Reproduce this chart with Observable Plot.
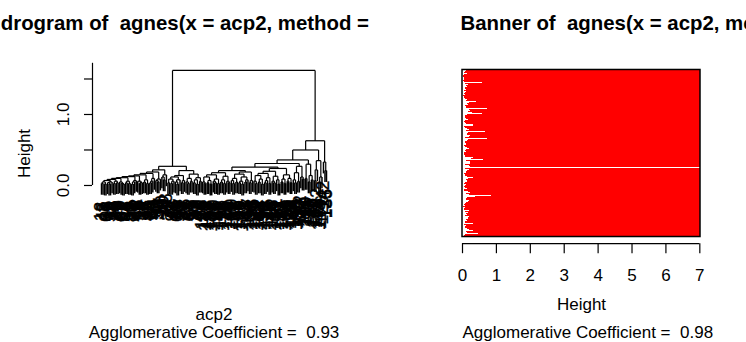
<!DOCTYPE html>
<html>
<head>
<meta charset="utf-8">
<script src="https://cdn.jsdelivr.net/npm/d3@7"></script>
<script src="https://cdn.jsdelivr.net/npm/@observablehq/plot@0.6"></script>
<style>
  html, body { margin: 0; padding: 0; background: #fff; }
  #page { display: flex; width: 746px; height: 342px; }
  .panel { width: 373px; height: 342px; overflow: hidden; position: relative; }
  .panel svg { display: block; overflow: hidden; }
  .panel text { white-space: pre; }
</style>
</head>
<body>
<div id="page">
  <div class="panel" id="dendro"></div>
  <div class="panel" id="banner"></div>
</div>
<script>
// ---- agnes(acp2, "single"): merge height between consecutive observations in dendrogram order
const mergeHeights = [
  0.03, 0.05, 0.02, 0.07, 0.04, 0.02, 0.05, 0.085, 0.03, 0.06,
  0.04, 0.10, 0.05, 0.03, 0.02, 0.11, 0.04, 0.06, 0.03, 0.125,
  0.02, 0.05, 0.07, 0.135, 0.06, 0.03, 0.04, 0.15, 0.05, 0.08,
  0.03, 0.17, 0.04, 0.06, 0.10, 0.19, 0.07, 0.05, 0.09, 0.22,
  0.12, 0.08, 0.15, 0.27, 0.04, 0.09, 0.03, 0.06, 0.12, 0.05,
  0.02, 0.08, 0.14, 0.04, 0.07, 0.21, 0.05, 0.03, 0.10, 0.06,
  0.16, 0.04, 0.08, 0.02, 0.11, 0.06, 1.62, 0.05, 0.03, 0.12,
  0.04, 0.07, 0.02, 0.15, 0.06, 0.04, 0.09, 0.03, 0.18, 0.05,
  0.08, 0.03, 0.13, 0.06, 0.04, 0.21, 0.07, 0.03, 0.10, 0.05,
  0.16, 0.04, 0.06, 0.02, 0.12, 0.05, 0.08, 0.19, 0.04, 0.07,
  0.26, 0.06, 0.03, 0.14, 0.05, 0.09, 0.02, 0.17, 0.04, 0.07,
  0.11, 0.03, 0.20, 0.06, 0.04, 0.13, 0.08, 0.02, 0.24, 0.05,
  0.09, 0.03, 0.15, 0.06, 0.10, 0.04, 0.31, 0.08, 0.04, 0.18,
  0.06, 0.27, 0.12, 0.09, 0.36, 0.10, 0.30, 0.05, 0.14, 0.08,
  0.50, 0.07, 0.22, 0.35, 0.04, 0.12, 0.63, 0.33, 0.21
];

// observation names, left to right
const leafLabels = [
  12, 45, 3, 67, 28, 9, 51, 33, 74, 16, 88, 5, 40, 21, 62, 97, 8, 37, 55, 19, 83, 26, 70, 2,
  48, 91, 14, 59, 31, 76, 6, 43, 85, 24, 65, 11, 94, 38, 57, 17, 80, 29, 4, 68,
  35, 72, 1, 99, 46, 23, 60, 13, 87, 52, 30, 78, 7, 41, 64, 95, 18, 53, 82, 27, 49, 10, 73,
  104, 36, 121, 58, 112, 84, 133, 20, 107, 66, 140, 42, 115, 93, 128, 25, 101, 79, 146, 50,
  119, 61, 136, 15, 109, 86, 124, 32, 143, 71, 117, 54, 130, 98,
  125, 39, 102, 147, 63, 113, 90, 138, 22, 106, 75, 149, 118, 44, 131, 81, 110, 56, 127, 144,
  34, 103, 92, 139,
  116, 69, 134, 47, 108, 150, 89,
  122, 77, 141, 100, 129,
  111, 96, 145, 120, 137, 105,
  132, 148, 114, 126, 142, 123, 135
];

const heightTicks = [0, 0.5, 1, 1.5];
const heightLabelValues = [0, 1];
const heightLabelTexts = ["0.0", "1.0"];

// ---- agnes(acp2, "ward"): banner heights, top row first
const bannerHeights = [
  0.12, 0.08, 0.05, 0.16, 0.06, 0.04, 0.03, 0.05, 0.07, 0.04,
  0.06, 0.60, 0.08, 0.19, 0.12, 0.15, 0.09, 0.11, 0.07, 0.13,
  0.10, 0.05, 0.08, 0.04, 0.06, 0.09, 0.16, 0.12, 0.41, 0.22,
  0.15, 0.18, 0.10, 0.13, 0.75, 0.20, 0.25, 0.17, 0.30, 0.60,
  0.14, 0.10, 0.08, 0.12, 0.18, 0.09, 0.06, 0.08, 0.11, 0.31,
  0.07, 0.10, 0.14, 0.20, 0.12, 0.69, 0.17, 0.15, 0.25, 0.22,
  0.09, 0.73, 0.18, 0.14, 0.10, 0.08, 0.12, 0.06, 0.09, 0.15,
  0.20, 0.11, 0.09, 0.13, 0.07, 0.05, 0.08, 0.10, 0.31, 0.28,
  0.63, 0.12, 0.25, 0.24, 0.10, 0.21, 0.23, 7.02, 0.08, 0.20,
  0.15, 0.12, 0.06, 0.10, 0.08, 0.14, 0.33, 0.19, 0.12, 0.16,
  0.09, 0.06, 0.11, 0.08, 0.05, 0.10, 0.14, 0.07, 0.18, 0.24,
  0.12, 0.20, 0.87, 0.38, 0.15, 0.11, 0.20, 0.17, 0.12, 0.09,
  0.05, 0.08, 0.04, 0.10, 0.06, 0.22, 0.08, 0.17, 0.12, 0.14,
  0.09, 0.20, 0.18, 0.11, 0.15, 0.10, 0.08, 0.31, 0.06, 0.12,
  0.09, 0.14, 0.22, 0.31, 0.12, 0.16, 0.48, 0.10, 0.06
];
const bannerTicks = [0, 1, 2, 3, 4, 5, 6, 7];

const dendroTitle = 'Dendrogram of  agnes(x = acp2, method = "single")';
const dendroXLabel = "acp2";
const dendroSub = "Agglomerative Coefficient =  0.93";
const bannerTitle = 'Banner of  agnes(x = acp2, method = "ward")';
const bannerXLabel = "Height";
const bannerSub = "Agglomerative Coefficient =  0.98";
const yLabel = "Height";

const font = "'Liberation Sans', Arial, Helvetica, sans-serif";
const baseStyle = {fontFamily: font, fontSize: "17px", background: "#fff", color: "#000", overflow: "hidden"};

// ---- dendrogram layout from the ordered merge heights
const n = leafLabels.length;
const hang = 0.16;
const segments = [];
const leaves = [];
function build(lo, hi) {
  if (lo === hi) return {x: lo, leaf: true, i: lo};
  let k = lo;
  for (let j = lo + 1; j < hi; j++) if (mergeHeights[j] > mergeHeights[k]) k = j;
  const h = mergeHeights[k];
  const a = build(lo, k);
  const b = build(k + 1, hi);
  for (const c of [a, b]) {
    const bottom = c.leaf ? h - hang : c.h;
    if (c.leaf) leaves.push({x: c.x, tip: h - hang, label: String(leafLabels[c.i])});
    segments.push({x1: c.x, y1: bottom, x2: c.x, y2: h, leaf: c.leaf});
  }
  segments.push({x1: a.x, y1: h, x2: b.x, y2: h, leaf: false});
  return {x: (a.x + b.x) / 2, h, leaf: false};
}
build(0, n - 1);

const xPad = 0.04 * (n - 1);
const xDomain = [-xPad, n - 1 + xPad];
const yDomain = [-0.82, 1.721];

// text baselines are measured from the bottom edge of the plotting frame
const dendro = Plot.plot({
  width: 373, height: 342,
  marginLeft: 92, marginRight: 38, marginTop: 62.8, marginBottom: 98.8,
  x: {domain: xDomain, axis: null},
  y: {domain: yDomain, axis: null},
  style: baseStyle,
  marks: [
    Plot.link(segments.filter(d => !d.leaf), {x1: "x1", y1: "y1", x2: "x2", y2: "y2",
      stroke: "#000", strokeWidth: 1.2}),
    Plot.link(segments.filter(d => d.leaf), {x1: "x1", y1: "y1", x2: "x2", y2: "y2",
      stroke: "#000", strokeWidth: 1.5}),
    Plot.text(leaves, {x: "x", y: "tip", text: "label", rotate: -90, textAnchor: "end",
      lineAnchor: "middle", dy: 7, fontSize: 17.5, fill: "#000", stroke: "#000", strokeWidth: 0.3,
      opacity: 0.99}),
    Plot.ruleX([xDomain[0]], {y1: heightTicks[0], y2: yDomain[1], stroke: "#000", strokeWidth: 1.2}),
    Plot.axisY({ticks: heightTicks, tickSize: 8, tickFormat: () => "", label: null,
      stroke: "#000", strokeWidth: 1.2}),
    Plot.text(heightLabelValues, {y: d => d, text: (d, i) => heightLabelTexts[i], frameAnchor: "left",
      dx: -29, rotate: -90, textAnchor: "middle", lineAnchor: "middle", fontSize: 17, fill: "#000"}),
    Plot.text([yLabel], {text: d => d, frameAnchor: "left", dx: -68, rotate: -90,
      textAnchor: "middle", lineAnchor: "middle", fontSize: 17, fill: "#000"}),
    Plot.text([dendroTitle], {text: d => d, frameAnchor: "top", dx: -3, dy: -33.8, lineAnchor: "bottom",
      fontSize: 20.4, fontWeight: "bold", fill: "#000"}),
    Plot.text([dendroXLabel], {text: d => d, frameAnchor: "bottom", dy: 75.8, lineAnchor: "bottom",
      fontSize: 17, fill: "#000"}),
    Plot.text([dendroSub], {text: d => d, frameAnchor: "bottom", dy: 93.8, lineAnchor: "bottom",
      fontSize: 17, fill: "#000"})
  ]
});
document.getElementById("dendro").appendChild(dendro);

// ---- banner
const nRows = bannerHeights.length;
const maxHeight = d3.max(bannerHeights);
const rows = bannerHeights.map((h, row) => ({row, h}));
const yPad = 0.04 * nRows;
const rowDomain = [-yPad, nRows + yPad];

const banner = Plot.plot({
  width: 373, height: 342,
  marginLeft: 89, marginRight: 46, marginTop: 62.8, marginBottom: 98.8,
  x: {domain: [0, maxHeight], axis: null},
  y: {domain: rowDomain, reverse: true, axis: null},
  style: baseStyle,
  marks: [
    Plot.rect(rows, {x1: "h", x2: maxHeight, y1: "row", y2: d => d.row + 1, fill: "#ff0000",
      shapeRendering: "crispEdges"}),
    Plot.rect([0], {x1: 0, x2: maxHeight, y1: 0, y2: nRows, fill: "none", stroke: "#000", strokeWidth: 1.5}),
    Plot.ruleY([rowDomain[1]], {x1: bannerTicks[0], x2: bannerTicks[bannerTicks.length - 1],
      stroke: "#000", strokeWidth: 1.2}),
    Plot.axisX({ticks: bannerTicks, tickSize: 10, tickPadding: 15.7, tickFormat: d => String(d),
      label: null, fontSize: 17, stroke: "#000", strokeWidth: 1.2, fill: "#000"}),
    Plot.text([bannerXLabel], {text: d => d, frameAnchor: "bottom", dy: 66.3, lineAnchor: "bottom",
      fontSize: 17, fill: "#000"}),
    Plot.text([bannerSub], {text: d => d, frameAnchor: "bottom-left", textAnchor: "start", dy: 93.8,
      lineAnchor: "bottom", fontSize: 17, fill: "#000"}),
    Plot.text([bannerTitle], {text: d => d, frameAnchor: "top-left", textAnchor: "start", dx: -2, dy: -33.8,
      lineAnchor: "bottom", fontSize: 20.4, fontWeight: "bold", fill: "#000"})
  ]
});
document.getElementById("banner").appendChild(banner);
</script>
</body>
</html>
